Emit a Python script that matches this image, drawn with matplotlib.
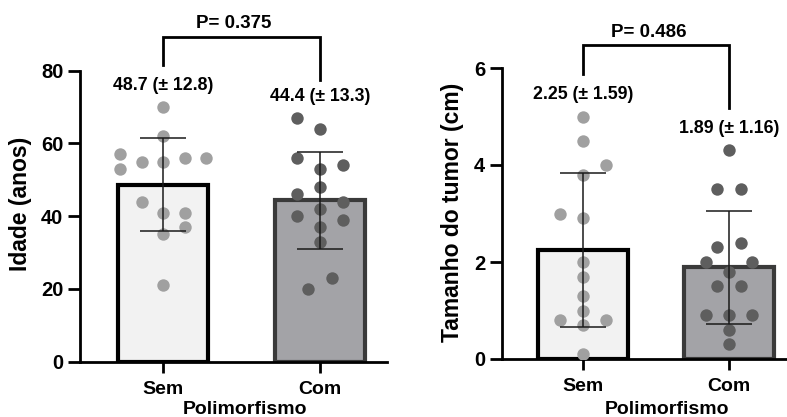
import matplotlib
matplotlib.use("Agg")
import matplotlib.pyplot as plt
import numpy as np

plt.rcParams['font.family'] = ['Liberation Sans', 'DejaVu Sans']
plt.rcParams['font.weight'] = 'bold'

categories = ["Sem", "Com"]

# Left panel: age
idade_sem = [70, 62, 57, 53, 55, 55, 56, 56, 44, 41, 41, 37, 35, 21]
idade_sem_off = [0, 0, -2, -2, -1, 0, 1, 2, -1, 0, 1, 1, 0, 0]
idade_com = [67, 64, 56, 53, 54, 48, 46, 44, 42, 40, 39, 37, 33, 23, 20]
idade_com_off = [-2, 0, -2, 0, 2, 0, -2, 2, 0, -2, 2, 0, 0, 1, -1]
idade_mean = [48.7, 44.4]
idade_sd = [12.8, 13.3]
idade_labels = ["48.7 (± 12.8)", "44.4 (± 13.3)"]
idade_p = "P= 0.375"

# Right panel: tumour size
tam_sem = [5.0, 4.5, 4.0, 3.8, 3.0, 2.9, 2.0, 1.7, 1.3, 1.0, 0.8, 0.8, 0.7, 0.1]
tam_sem_off = [0, 0, 2, 0, -2, 0, 0, 0, 0, 0, -2, 2, 0, 0]
tam_com = [4.3, 3.5, 3.5, 2.3, 2.4, 2.0, 2.0, 1.8, 1.5, 1.5, 0.9, 0.9, 0.9, 0.6, 0.3]
tam_com_off = [0, -1, 1, -1, 1, -2, 2, 0, -1, 1, -2, 0, 2, 0, 0]
tam_mean = [2.25, 1.89]
tam_sd = [1.59, 1.16]
tam_labels = ["2.25 (± 1.59)", "1.89 (± 1.16)"]
tam_p = "P= 0.486"

bar_fill = ["#f2f2f2", "#a3a3a7"]
bar_edge = ["#000000", "#3a3a3a"]
pt_color = ["#a0a0a0", "#5e5e5e"]

fig = plt.figure(figsize=(7.87, 4.17), dpi=100)
axL = fig.add_axes([80/787, 1-361.7/417, 307/787, 291/417])
axR = fig.add_axes([502/787, 1-359/417, 285/787, 291/417])


def panel(ax, sem, sem_off, com, com_off, means, sds, labels, ptxt,
          width, step_sem, step_com, ylim, yticks, ylabel,
          xlim, bracket, ptext_y, label_y, ylab_xy, xlab_xy):
    x = np.arange(len(categories))
    for i in range(2):
        ax.bar(x[i], means[i], width=width, color=bar_fill[i],
               edgecolor=bar_edge[i], linewidth=3, zorder=2)
    ax.scatter(x[0] + np.array(sem_off) * step_sem, sem, s=80,
               color=pt_color[0], zorder=3, linewidths=0)
    ax.scatter(x[1] + np.array(com_off) * step_com, com, s=80,
               color=pt_color[1], zorder=3, linewidths=0)
    ax.errorbar(x, means, yerr=sds, fmt='none', ecolor='#1a1a1a',
                elinewidth=1.1, capsize=16.5, capthick=1.1, zorder=4)
    ax.set_xlim(*xlim)
    ax.set_ylim(*ylim)
    ax.set_yticks(yticks)
    ax.set_xticks(x)
    ax.set_xticklabels(categories, fontsize=14, fontweight='bold')
    for t in ax.get_yticklabels():
        t.set_fontsize(14.5)
        t.set_fontweight('bold')
    ax.tick_params(axis='y', length=9, width=2, pad=3)
    ax.tick_params(axis='x', length=8, width=2, pad=6)
    for s in ['top', 'right']:
        ax.spines[s].set_visible(False)
    for s in ['left', 'bottom']:
        ax.spines[s].set_linewidth(2)
    ax.set_ylabel(ylabel, fontsize=16.5, fontweight='bold', va='center')
    ax.yaxis.set_label_coords(*ylab_xy)
    ax.set_xlabel("Polimorfismo", fontsize=14, fontweight='bold', va='center')
    ax.xaxis.set_label_coords(*xlab_xy)
    # bracket
    top, lb, rb = bracket
    ax.plot([x[0], x[0], x[1], x[1]], [lb, top, top, rb], color='black',
            linewidth=2, clip_on=False, solid_joinstyle='miter')
    ax.text((x[0] + x[1]) / 2 - 0.05, ptext_y, ptxt, ha='center', va='center',
            fontsize=13.5, fontweight='bold')
    for i in range(2):
        ax.text(x[i], label_y[i], labels[i], ha='center', va='center',
                fontsize=12.8, fontweight='bold')


panel(axL, idade_sem, idade_sem_off, idade_com, idade_com_off, idade_mean,
      idade_sd, idade_labels, idade_p, width=0.573, step_sem=0.137,
      step_com=0.074, ylim=(0, 80), yticks=[0, 20, 40, 60, 80],
      ylabel="Idade (anos)", xlim=(-0.529, 1.427), bracket=(89.3, 81.6, 77.4),
      ptext_y=93.1, label_y=[75.8, 72.8], ylab_xy=(-0.195, 0.542),
      xlab_xy=(0.537, -0.165))

panel(axR, tam_sem, tam_sem_off, tam_com, tam_com_off, tam_mean,
      tam_sd, tam_labels, tam_p, width=0.616, step_sem=0.08,
      step_com=0.08, ylim=(0, 6), yticks=[0, 2, 4, 6],
      ylabel="Tamanho do tumor (cm)", xlim=(-0.555, 1.397),
      bracket=(6.47, 5.88, 5.18), ptext_y=6.74, label_y=[5.46, 4.76],
      ylab_xy=(-0.175, 0.503), xlab_xy=(0.579, -0.175))

fig.savefig("out.png", dpi=100)
